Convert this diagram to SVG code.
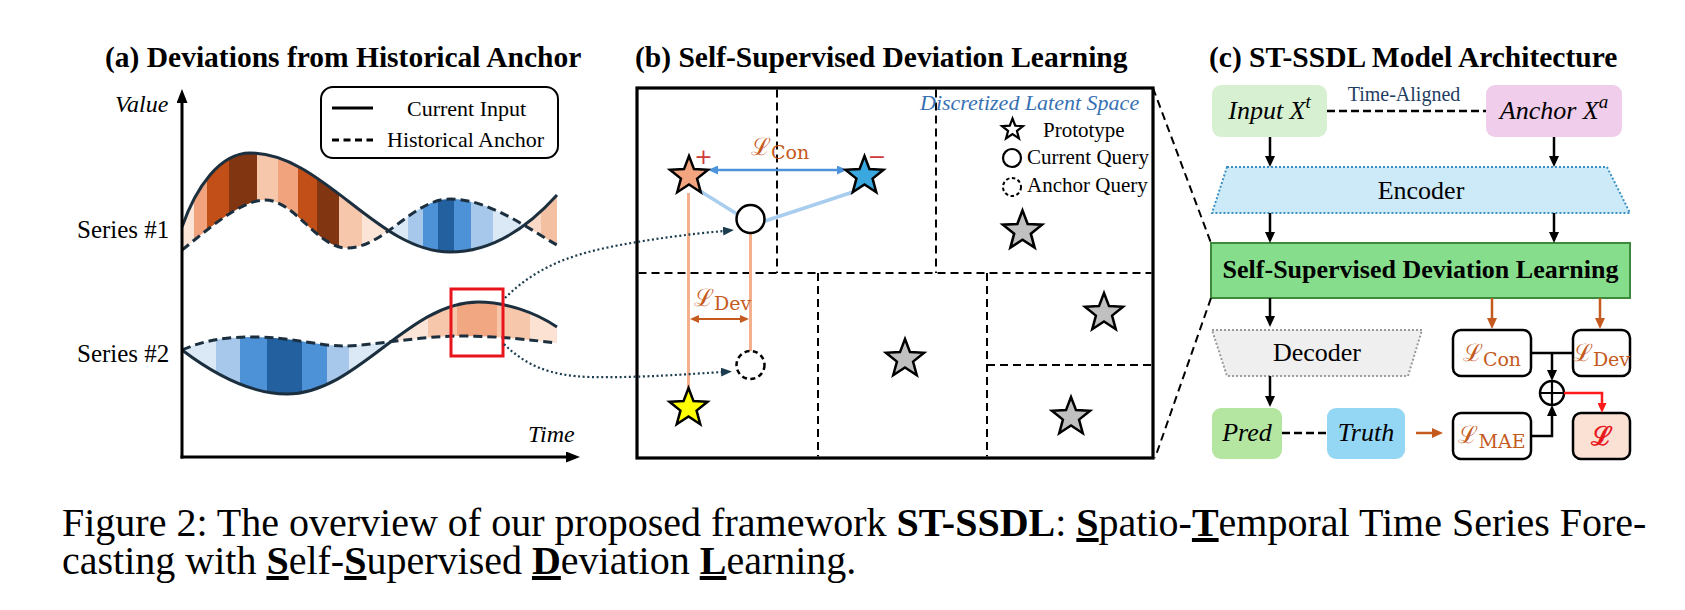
<svg xmlns="http://www.w3.org/2000/svg" width="1685" height="610" viewBox="0 0 1685 610">
<defs>
<style>
text{font-family:"Liberation Serif","Times New Roman",serif;fill:#000}
.title{font-size:29.5px;font-weight:bold}
.it{font-style:italic}
.lbl{font-size:25px}
.leg{font-size:22px}
.leg2{font-size:21px}
.b26{font-size:26px}
.math{font-family:"DejaVu Serif",serif;fill:#c55a1e;font-size:24px}
.sub{font-size:19px}
.cur{fill:none;stroke:#1b2f3f;stroke-width:3}
.anc{fill:none;stroke:#1b2f3f;stroke-width:3;stroke-dasharray:9 5}
.grid{stroke:#000;stroke-width:2;stroke-dasharray:8 5;fill:none}
.star{stroke:#000;stroke-width:2.5;stroke-linejoin:miter}
.lbox{fill:#fff;stroke:#000;stroke-width:2.5}
.ar{stroke:#000;stroke-width:2.5;fill:none}
.aro{stroke:#c55a1e;stroke-width:2.5;fill:none}
.dot{fill:none;stroke:#1c3d4f;stroke-width:2.2;stroke-dasharray:2 2.6}
</style>
<marker id="mb" viewBox="0 0 11 10" refX="1" refY="5" markerWidth="11" markerHeight="10" markerUnits="userSpaceOnUse" orient="auto"><path d="M0,0 L11,5 L0,10 Z" fill="#000"/></marker>
<marker id="max" viewBox="0 0 14 11" refX="1" refY="5.5" markerWidth="14" markerHeight="11" markerUnits="userSpaceOnUse" orient="auto"><path d="M0,0 L14,5.5 L0,11 Z" fill="#000"/></marker>
<marker id="mo" viewBox="0 0 11 10" refX="1" refY="5" markerWidth="11" markerHeight="10" markerUnits="userSpaceOnUse" orient="auto"><path d="M0,0 L11,5 L0,10 Z" fill="#c55a1e"/></marker>
<marker id="mr" viewBox="0 0 10 9" refX="1" refY="4.5" markerWidth="10" markerHeight="9" markerUnits="userSpaceOnUse" orient="auto"><path d="M0,0 L10,4.5 L0,9 Z" fill="#ff1a1a"/></marker>
<marker id="md" viewBox="0 0 11 9" refX="1" refY="4.5" markerWidth="11" markerHeight="9" markerUnits="userSpaceOnUse" orient="auto"><path d="M0,0 L11,4.5 L0,9 Z" fill="#1c3d4f"/></marker>
<marker id="mbl" viewBox="0 0 10 9" refX="1" refY="4.5" markerWidth="10" markerHeight="9" markerUnits="userSpaceOnUse" orient="auto-start-reverse"><path d="M0,0 L10,4.5 L0,9 Z" fill="#4d93dc"/></marker>
<marker id="mod" viewBox="0 0 9 8" refX="1" refY="4" markerWidth="9" markerHeight="8" markerUnits="userSpaceOnUse" orient="auto-start-reverse"><path d="M0,0 L9,4 L0,8 Z" fill="#c55a1e"/></marker>
<path id="star" d="M0,-20 L5,-6.88 L19.02,-6.18 L8.08,2.63 L11.76,16.18 L0,8.5 L-11.76,16.18 L-8.08,2.63 L-19.02,-6.18 L-5,-6.88 Z"/>
<clipPath id="c1"><path d="M182,227 C196,187 220,153 250,153 C323,153 377,252 450,252 C495,252 530,225 557,195 L557,245 C530,230 490,199 450,199 C413,199 384,248 347,248 C317,248 295,200 265,200 C240,200 205,232 182,250 Z"/></clipPath>
<clipPath id="c2"><path d="M182,350 C215,375 250,394 287,394 C357,394 408,302 478,302 C505,302 535,312 557,327 L557,343 C530,340 500,336 460,336 C420,336 370,346 343,346 C320,346 290,337 255,337 C225,337 205,340 182,350 Z"/></clipPath>
</defs>
<rect width="1685" height="610" fill="#fff"/>

<g id="panel-a">
<text class="title" x="105" y="67">(a) Deviations from Historical Anchor</text>
<g id="series1-fill" clip-path="url(#c1)">
<rect x="182" y="140" width="12" height="120" fill="#fce4d6"/>
<rect x="194" y="140" width="13" height="120" fill="#f0a37d"/>
<rect x="207" y="140" width="22" height="120" fill="#c24f17"/>
<rect x="229" y="140" width="28" height="120" fill="#813510"/>
<rect x="257" y="140" width="21" height="120" fill="#f7c7ab"/>
<rect x="278" y="140" width="20" height="120" fill="#f0a37d"/>
<rect x="298" y="140" width="19" height="120" fill="#c24f17"/>
<rect x="317" y="140" width="22" height="120" fill="#813510"/>
<rect x="339" y="140" width="23" height="120" fill="#f7c7ab"/>
<rect x="362" y="140" width="27" height="120" fill="#fce4d6"/>
<rect x="389" y="140" width="19" height="120" fill="#dbe8f6"/>
<rect x="408" y="140" width="15" height="120" fill="#a7c8eb"/>
<rect x="423" y="140" width="15" height="120" fill="#4d91d6"/>
<rect x="438" y="140" width="16" height="120" fill="#22609f"/>
<rect x="454" y="140" width="17" height="120" fill="#4d91d6"/>
<rect x="471" y="140" width="22" height="120" fill="#a7c8eb"/>
<rect x="493" y="140" width="30" height="120" fill="#dbe8f6"/>
<rect x="523" y="140" width="18" height="120" fill="#fadac6"/>
<rect x="541" y="140" width="16" height="120" fill="#f4c0a2"/>
</g>
<g id="series2-fill" clip-path="url(#c2)">
<rect x="182" y="290" width="34" height="120" fill="#dbe8f6"/>
<rect x="216" y="290" width="24" height="120" fill="#a7c8eb"/>
<rect x="240" y="290" width="27" height="120" fill="#4d91d6"/>
<rect x="267" y="290" width="35" height="120" fill="#22609f"/>
<rect x="302" y="290" width="25" height="120" fill="#4d91d6"/>
<rect x="327" y="290" width="22" height="120" fill="#a7c8eb"/>
<rect x="349" y="290" width="40" height="120" fill="#dbe8f6"/>
<rect x="389" y="290" width="39" height="120" fill="#fce4d6"/>
<rect x="428" y="290" width="29" height="120" fill="#f7c7ab"/>
<rect x="457" y="290" width="40" height="120" fill="#f1a782"/>
<rect x="497" y="290" width="33" height="120" fill="#f7c7ab"/>
<rect x="530" y="290" width="27" height="120" fill="#fce2d2"/>
</g>
<path class="cur" d="M182,227 C196,187 220,153 250,153 C323,153 377,252 450,252 C495,252 530,225 557,195"/>
<path class="anc" d="M182,250 C205,232 240,200 265,200 C295,200 317,248 347,248 C384,248 413,199 450,199 C490,199 530,230 557,245"/>
<path class="cur" d="M182,350 C215,375 250,394 287,394 C357,394 408,302 478,302 C505,302 535,312 557,327"/>
<path class="anc" d="M182,350 C205,340 225,337 255,337 C290,337 320,346 343,346 C370,346 420,336 460,336 C500,336 530,340 557,343"/>
<line x1="182" y1="458.5" x2="182" y2="102" stroke="#000" stroke-width="3" marker-end="url(#max)"/>
<line x1="180.5" y1="457" x2="567" y2="457" stroke="#000" stroke-width="3" marker-end="url(#max)"/>
<text class="it" x="115" y="112" font-size="24">Value</text>
<text class="it" x="528" y="442" font-size="24">Time</text>
<text class="lbl" x="77" y="238">Series #1</text>
<text class="lbl" x="77" y="362">Series #2</text>
<g id="legend-a">
<rect x="321" y="87" width="237" height="71" rx="12" fill="#fff" stroke="#000" stroke-width="2"/>
<line x1="332" y1="108" x2="373" y2="108" stroke="#000" stroke-width="3"/>
<line x1="332" y1="140" x2="373" y2="140" stroke="#000" stroke-width="3" stroke-dasharray="7 4.5"/>
<text class="leg" x="407" y="116">Current Input</text>
<text class="leg" x="387" y="147">Historical Anchor</text>
</g>
<rect id="red-box" x="451" y="289" width="52" height="67" fill="none" stroke="#e8141c" stroke-width="3"/>
</g>

<g id="panel-b">
<text class="title" x="635" y="67">(b) Self-Supervised Deviation Learning</text>
<rect x="637" y="88" width="516" height="370" fill="#fff" stroke="#000" stroke-width="3.2"/>
<g id="grid">
<path class="grid" d="M777,89.5 V273 M936,89.5 V273 M638.5,273 H1151.5 M818,273 V456.5 M987,273 V456.5 M987,365 H1151.5"/>
</g>
<text class="it" x="920" y="110" font-size="22" style="fill:#3871b3">Discretized Latent Space</text>
<g id="legend-b">
<use href="#star" transform="translate(1012.5,129.5) scale(0.55)" class="star" fill="#fff" style="stroke-width:4"/>
<text class="leg2" x="1043" y="137">Prototype</text>
<circle cx="1012" cy="158" r="9" fill="#fff" stroke="#000" stroke-width="2.2"/>
<text class="leg2" x="1027" y="164">Current Query</text>
<circle cx="1012" cy="187" r="9" fill="#fff" stroke="#000" stroke-width="2" stroke-dasharray="3.5 2.5"/>
<text class="leg2" x="1027" y="192">Anchor Query</text>
</g>
<g id="proto-gray">
<use href="#star" transform="translate(1022.5,231) scale(1.03)" class="star" fill="#c0c0c0"/>
<use href="#star" transform="translate(905,359)" class="star" fill="#c0c0c0"/>
<use href="#star" transform="translate(1104,313)" class="star" fill="#c0c0c0"/>
<use href="#star" transform="translate(1071,417)" class="star" fill="#c0c0c0"/>
</g>
<g id="rel-lines">
<line x1="688.5" y1="193" x2="688.5" y2="388" stroke="#f4b08c" stroke-width="3"/>
<line x1="750.5" y1="234" x2="750.5" y2="351" stroke="#f4b08c" stroke-width="3"/>
<line x1="700" y1="191" x2="737" y2="214" stroke="#a8cdee" stroke-width="3.5"/>
<line x1="765" y1="221" x2="853" y2="192" stroke="#a8cdee" stroke-width="3.5"/>
<line x1="717" y1="170" x2="838" y2="170" stroke="#4d93dc" stroke-width="2.5" marker-start="url(#mbl)" marker-end="url(#mbl)"/>
<line x1="698" y1="319" x2="741" y2="319" stroke="#c55a1e" stroke-width="2" marker-start="url(#mod)" marker-end="url(#mod)"/>
</g>
<g id="proto-pos"><use href="#star" transform="translate(689,176)" class="star" fill="#f3a57f"/>
<text x="703.5" y="164" font-size="22" text-anchor="middle" style="fill:#d03a3a;font-family:'DejaVu Sans',sans-serif">+</text></g>
<g id="proto-neg"><use href="#star" transform="translate(864.5,176)" class="star" fill="#3aa7de"/>
<text x="877" y="164" font-size="22" text-anchor="middle" style="fill:#d03a3a;font-family:'DejaVu Sans',sans-serif">−</text></g>
<g id="proto-anchor"><use href="#star" transform="translate(688.5,408)" class="star" fill="#ffff00"/></g>
<g id="current-query"><circle cx="750.5" cy="219" r="14" fill="#fff" stroke="#000" stroke-width="2.5"/></g>
<g id="anchor-query"><circle cx="750.5" cy="365" r="14" fill="#fff" stroke="#000" stroke-width="2.5" stroke-dasharray="5 3.5"/></g>
<text class="math" x="751" y="155">ℒ<tspan class="sub" dy="4">Con</tspan></text>
<text class="math" x="694" y="306">ℒ<tspan class="sub" dy="4">Dev</tspan></text>
</g>

<g id="panel-c">
<text class="title" x="1209" y="67">(c) ST-SSDL Model Architecture</text>
<g id="input"><rect x="1212" y="85" width="115" height="52" rx="9" fill="#d8f0d2"/>
<text class="it b26" x="1269.5" y="119" text-anchor="middle">Input X<tspan font-size="19" dy="-11">t</tspan></text></g>
<g id="anchor"><rect x="1486" y="85" width="136" height="52" rx="9" fill="#f0cdea"/>
<text class="it b26" x="1554" y="119" text-anchor="middle">Anchor X<tspan font-size="19" dy="-11">a</tspan></text></g>
<text x="1404" y="101" font-size="20" text-anchor="middle" style="fill:#1f3d63">Time-Aligned</text>
<g id="encoder"><path d="M1227,167 L1607,167 L1630,213 L1212,213 Z" fill="#cdeaf8" stroke="#3a90c4" stroke-width="2" stroke-dasharray="2 2"/>
<text class="b26" x="1421" y="199" text-anchor="middle">Encoder</text></g>
<g id="ssdl"><rect x="1211" y="243" width="419" height="55" fill="#86de8c" stroke="#3d8a3d" stroke-width="2"/>
<text x="1420.5" y="278" font-size="26" font-weight="bold" text-anchor="middle">Self-Supervised Deviation Learning</text></g>
<g id="decoder"><path d="M1212,330 L1422,330 L1408,376 L1227,376 Z" fill="#efefef" stroke="#9a9a9a" stroke-width="2" stroke-dasharray="2 2"/>
<text class="b26" x="1317" y="361" text-anchor="middle">Decoder</text></g>
<g id="pred"><rect x="1212" y="408" width="70" height="51" rx="9" fill="#b4e5a1"/>
<text class="it b26" x="1247" y="441" text-anchor="middle">Pred</text></g>
<g id="truth"><rect x="1327" y="408" width="78" height="51" rx="9" fill="#94d7f5"/>
<text class="it b26" x="1366" y="441" text-anchor="middle">Truth</text></g>
<g id="l-con"><rect class="lbox" x="1453" y="330" width="78" height="46" rx="8"/>
<text class="math" x="1492" y="361" text-anchor="middle">ℒ<tspan class="sub" dy="5">Con</tspan></text></g>
<g id="l-dev"><rect class="lbox" x="1573" y="330" width="57" height="46" rx="8"/>
<text class="math" x="1601.5" y="361" text-anchor="middle">ℒ<tspan class="sub" dy="5">Dev</tspan></text></g>
<g id="l-mae"><rect class="lbox" x="1453" y="413" width="78" height="46" rx="8"/>
<text class="math" x="1492" y="443" text-anchor="middle">ℒ<tspan class="sub" dy="5">MAE</tspan></text></g>
<g id="l-total"><rect class="lbox" x="1573" y="413" width="57" height="46" rx="8" style="fill:#fbe1d4"/>
<text x="1601.5" y="445" font-size="26" font-weight="bold" text-anchor="middle" style="fill:#e8191f;font-family:'DejaVu Serif',serif">ℒ</text></g>
<g id="oplus"><circle cx="1552" cy="393" r="12" fill="#fff" stroke="#000" stroke-width="2.5"/>
<path d="M1540,393 H1564 M1552,381 V405" stroke="#000" stroke-width="2.2"/></g>
</g>

<g id="connectors">
<path class="dot" d="M505,298 C535,268 570,255 610,247 C650,239 690,234 724,231" marker-end="url(#md)"/>
<path class="dot" d="M504,344 C525,365 550,376 590,377 C640,378 690,374 722,372" marker-end="url(#md)"/>
<line x1="1153" y1="88" x2="1211" y2="243" stroke="#000" stroke-width="2" stroke-dasharray="8 5"/>
<line x1="1211" y1="298" x2="1155" y2="458" stroke="#000" stroke-width="2" stroke-dasharray="8 5"/>
<line x1="1327" y1="111" x2="1486" y2="111" stroke="#000" stroke-width="2.5" stroke-dasharray="8 4"/>
<line class="ar" x1="1270" y1="137" x2="1270" y2="157" marker-end="url(#mb)"/>
<line class="ar" x1="1554" y1="137" x2="1554" y2="157" marker-end="url(#mb)"/>
<line class="ar" x1="1270" y1="213" x2="1270" y2="233" marker-end="url(#mb)"/>
<line class="ar" x1="1554" y1="213" x2="1554" y2="233" marker-end="url(#mb)"/>
<line class="ar" x1="1270" y1="298" x2="1270" y2="317" marker-end="url(#mb)"/>
<line class="ar" x1="1270" y1="376" x2="1270" y2="397" marker-end="url(#mb)"/>
<line class="aro" x1="1492" y1="298" x2="1492" y2="319" marker-end="url(#mo)"/>
<line class="aro" x1="1600" y1="298" x2="1600" y2="319" marker-end="url(#mo)"/>
<line x1="1282" y1="433" x2="1327" y2="433" stroke="#000" stroke-width="2.5" stroke-dasharray="8 4"/>
<line class="aro" x1="1416" y1="433" x2="1433" y2="433" marker-end="url(#mo)"/>
<line class="ar" x1="1531" y1="353" x2="1573" y2="353"/>
<line class="ar" x1="1552" y1="353" x2="1552" y2="371" marker-end="url(#mb)"/>
<path class="ar" d="M1531,436 H1552 V415" marker-end="url(#mb)"/>
<path d="M1564,393 H1602 V404" fill="none" stroke="#ff1a1a" stroke-width="2.5" marker-end="url(#mr)"/>
</g>

<g id="caption" font-size="40">
<text x="62" y="536">Figure 2: The overview of our proposed framework <tspan font-weight="bold">ST-SSDL</tspan>: <tspan font-weight="bold" text-decoration="underline">S</tspan>patio-<tspan font-weight="bold" text-decoration="underline">T</tspan>emporal Time Series Fore-</text>
<text x="62" y="574">casting with <tspan font-weight="bold" text-decoration="underline">S</tspan>elf-<tspan font-weight="bold" text-decoration="underline">S</tspan>upervised <tspan font-weight="bold" text-decoration="underline">D</tspan>eviation <tspan font-weight="bold" text-decoration="underline">L</tspan>earning.</text>
</g>
</svg>
